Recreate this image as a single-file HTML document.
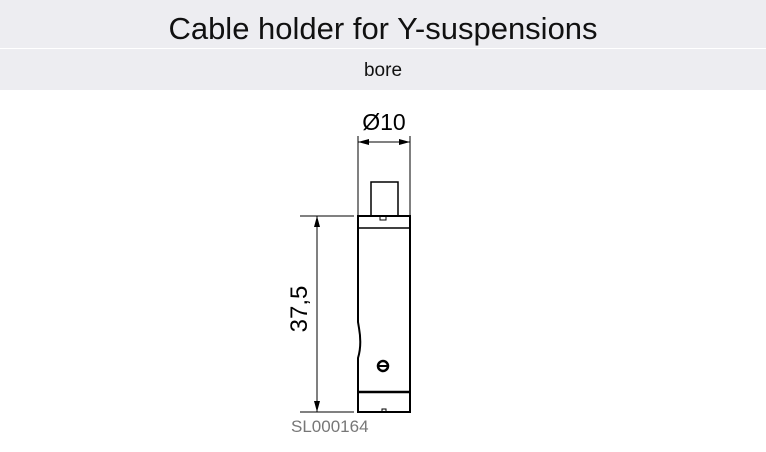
<!DOCTYPE html>
<html><head><style>
body{margin:0;width:766px;height:452px;background:#fff;font-family:"Liberation Sans",sans-serif;position:relative;overflow:hidden}
.t{position:absolute;left:0;top:0;width:766px;height:48px;background:#ededf1;text-align:center;font-size:31px;line-height:58px;color:#111}
.s{position:absolute;left:0;top:49px;width:766px;height:41px;background:#ededf1;text-align:center;font-size:19px;line-height:44px;color:#111}
</style></head><body>
<div class="t">Cable holder for Y-suspensions</div>
<div class="s">bore</div>
<svg width="766" height="452" style="position:absolute;left:0;top:0">
<g stroke="#000" fill="none">
<line x1="358" y1="136" x2="358" y2="216" stroke-width="1"/>
<line x1="410" y1="136" x2="410" y2="216" stroke-width="1"/>
<line x1="358" y1="142" x2="410" y2="142" stroke-width="1"/>
<line x1="300" y1="216" x2="354" y2="216" stroke-width="1"/>
<line x1="300" y1="412" x2="354" y2="412" stroke-width="1"/>
<line x1="317" y1="216" x2="317" y2="412" stroke-width="1"/>
<rect x="371" y="182" width="27" height="34" stroke-width="1.5"/>
<path d="M358,216 H410 V412 H358 V358 Q362,345 359,328 L358,322 Z" stroke-width="2"/>
<line x1="358" y1="228" x2="410" y2="228" stroke-width="1.5"/>
<line x1="358" y1="392" x2="410" y2="392" stroke-width="2.5"/>
<path d="M380,216 v4 h6 v-4" stroke-width="1"/>
<path d="M382,412 v-3 h4 v3" stroke-width="1"/>
<circle cx="383" cy="366" r="5" stroke-width="2.5" fill="#fff"/>
<line x1="379" y1="366" x2="387" y2="366" stroke-width="2"/>
</g>
<g fill="#000">
<path d="M358,142 l11,-3 v6 z"/><path d="M410,142 l-11,-3 v6 z"/>
<path d="M317,216 l-3,11 h6 z"/><path d="M317,412 l-3,-11 h6 z"/>
</g>
<text x="384" y="130" font-size="23" text-anchor="middle" font-family="Liberation Sans">Ø10</text>
<text transform="translate(307,309) rotate(-90)" font-size="24" text-anchor="middle" font-family="Liberation Sans">37,5</text>
<text x="291" y="432" font-size="17" fill="#777" font-family="Liberation Sans">SL000164</text>
</svg>
</body></html>
